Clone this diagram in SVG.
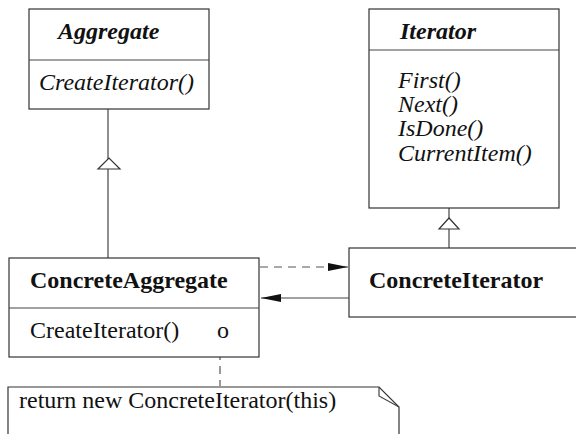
<svg xmlns="http://www.w3.org/2000/svg" width="576" height="434" viewBox="0 0 576 434">
<style>
.box{fill:#fff;stroke:#333;stroke-width:1.2}
.ln{fill:none;stroke:#444;stroke-width:1.2}
.dash{fill:none;stroke:#555;stroke-width:1.2;stroke-dasharray:8 6}
text{font-family:"Liberation Serif","Times New Roman",serif;font-size:24px;fill:#111}
.bi{font-weight:bold;font-style:italic}
.i{font-style:italic}
.b{font-weight:bold}
</style>
<defs>
<marker id="fill" viewBox="0 0 20 10" refX="20" refY="5" markerWidth="20" markerHeight="10" markerUnits="userSpaceOnUse" orient="auto">
<path d="M0,1 L20,5 L0,9 Z" fill="#111"/>
</marker>
</defs>
<g id="connectors">
<line class="ln" x1="108" y1="109" x2="108" y2="258"/>
<path d="M98,169 L109,158 L120,169 Z" fill="#fff" stroke="#333" stroke-width="1.2"/>
<line class="ln" x1="449" y1="208" x2="449" y2="248"/>
<path d="M439,229 L449,218 L459,229 Z" fill="#fff" stroke="#333" stroke-width="1.2"/>
<line class="dash" x1="260" y1="267" x2="348" y2="267" marker-end="url(#fill)"/>
<line class="ln" x1="349" y1="298" x2="261" y2="298" marker-end="url(#fill)"/>
<line class="dash" x1="220" y1="338" x2="220" y2="386"/>
</g>
<g id="Aggregate">
<rect class="box" x="29" y="9" width="180" height="100"/>
<line class="ln" x1="29" y1="60" x2="209" y2="60"/>
<text class="bi" x="58" y="39">Aggregate</text>
<text class="i" x="39" y="90">CreateIterator()</text>
</g>
<g id="Iterator">
<rect class="box" x="369" y="9" width="190" height="199"/>
<line class="ln" x1="369" y1="50" x2="559" y2="50"/>
<text class="bi" x="400" y="39">Iterator</text>
<text class="i" x="398" y="88">First()</text>
<text class="i" x="398" y="112">Next()</text>
<text class="i" x="398" y="136">IsDone()</text>
<text class="i" x="398" y="161">CurrentItem()</text>
</g>
<g id="ConcreteAggregate">
<rect class="box" x="9" y="258" width="250" height="99"/>
<line class="ln" x1="9" y1="308" x2="259" y2="308"/>
<text class="b" x="30" y="288">ConcreteAggregate</text>
<text x="30" y="338">CreateIterator()</text>
<text x="217" y="338">o</text>
</g>
<g id="ConcreteIterator">
<rect class="box" x="349" y="248" width="240" height="69"/>
<text class="b" x="369" y="288">ConcreteIterator</text>
</g>
<g id="note">
<path class="box" d="M8,440 L8,387 L379,387 L399,407 L399,440"/>
<path class="ln" d="M379,387 L379,396 L399,407"/>
<text x="19" y="408">return new ConcreteIterator(this)</text>
</g>
</svg>
